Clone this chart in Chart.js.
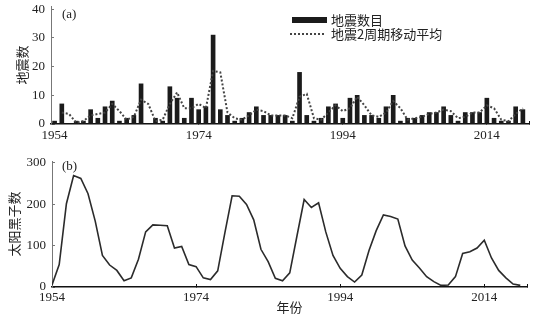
<!DOCTYPE html>
<html>
<head>
<meta charset="utf-8">
<script src="https://cdn.jsdelivr.net/npm/chart.js@4.4.1/dist/chart.umd.min.js"></script>
<style>
  html, body { margin: 0; padding: 0; background: #fff; }
  #wrap { position: relative; width: 534px; height: 321px; }
  #quakeChart { position: absolute; left: 0; top: 0; }
  #sunChart { position: absolute; left: 0; top: 146px; }
</style>
</head>
<body>
<div id="wrap">
  <canvas id="quakeChart" width="534" height="146"></canvas>
  <canvas id="sunChart" width="534" height="175"></canvas>
</div>
<script>
// years on the x axis (both panels)
const years = [1954, 1955, 1956, 1957, 1958, 1959, 1960, 1961, 1962, 1963,
               1964, 1965, 1966, 1967, 1968, 1969, 1970, 1971, 1972, 1973,
               1974, 1975, 1976, 1977, 1978, 1979, 1980, 1981, 1982, 1983,
               1984, 1985, 1986, 1987, 1988, 1989, 1990, 1991, 1992, 1993,
               1994, 1995, 1996, 1997, 1998, 1999, 2000, 2001, 2002, 2003,
               2004, 2005, 2006, 2007, 2008, 2009, 2010, 2011, 2012, 2013,
               2014, 2015, 2016, 2017, 2018, 2019];
const xTickYears = [1954, 1974, 1994, 2014];

// (a) earthquake counts per year
const quakeCounts = [1, 7, 0, 1, 1, 5, 2, 6, 8, 1,
                     2, 3, 14, 0, 2, 1, 13, 9, 2, 9,
                     5, 6, 31, 5, 3, 1, 2, 4, 6, 3,
                     3, 3, 3, 1, 18, 3, 1, 2, 6, 7,
                     2, 9, 10, 3, 3, 2, 6, 10, 1, 2,
                     2, 3, 4, 4, 6, 3, 1, 4, 4, 4,
                     9, 2, 1, 1, 6, 5];
// (a) 2-period moving average (1955-2019)
const quakeMa = [4, 3.5, 0.5, 1, 3, 3.5, 4, 7, 4.5, 1.5,
                 2.5, 8.5, 7, 1, 1.5, 7, 11, 5.5, 5.5, 7,
                 5.5, 18.5, 18, 4, 2, 1.5, 3, 5, 4.5, 3,
                 3, 3, 2, 9.5, 10.5, 2, 1.5, 4, 6.5, 4.5,
                 5.5, 9.5, 6.5, 3, 2.5, 4, 8, 5.5, 1.5, 2,
                 2.5, 3.5, 4, 5, 4.5, 2, 2.5, 4, 4, 6.5,
                 5.5, 1.5, 1, 3.5, 5.5];
const quakeYTicks = [0, 10, 20, 30, 40];

// (b) sunspot numbers per year
const sunspots = [5, 54, 201, 269, 262, 225, 159, 76, 53, 40,
                  15, 22, 67, 133, 150, 149, 148, 94, 98, 54,
                  49, 22, 18, 39, 131, 220, 219, 199, 162, 91,
                  61, 21, 15, 34, 123, 211, 192, 203, 133, 76,
                  45, 25, 12, 29, 88, 136, 174, 170, 164, 99,
                  65, 46, 25, 13, 4, 5, 25, 81, 85, 94,
                  113, 70, 40, 22, 7, 4];
const sunYTicks = [0, 100, 200, 300];

const serif = "'Liberation Serif', 'Times New Roman', serif";
const cjk = "'Noto Sans CJK SC', sans-serif";
const textColor = '#222';

Chart.defaults.font.family = serif;
Chart.defaults.font.size = 13;
Chart.defaults.color = textColor;

// panel tag and hand-placed legend
const panelNotes = {
  id: 'panelNotes',
  afterDraw(chart, args, opts) {
    const ctx = chart.ctx;
    ctx.save();
    ctx.fillStyle = textColor;
    ctx.textBaseline = 'middle';
    ctx.font = '13px ' + serif;
    ctx.fillText(opts.tag, opts.tagX, opts.tagY);
    if (opts.legend) {
      const ds = chart.data.datasets;
      ctx.fillStyle = '#1b1b1b';
      ctx.fillRect(292, 17, 35, 6);
      ctx.strokeStyle = '#444';
      ctx.lineWidth = 2;
      ctx.setLineDash([2, 2]);
      ctx.beginPath();
      ctx.moveTo(290, 34);
      ctx.lineTo(326, 34);
      ctx.stroke();
      ctx.setLineDash([]);
      ctx.fillStyle = textColor;
      ctx.font = '13px ' + cjk;
      ctx.fillText(ds[0].label, 331, 20.5);
      ctx.fillText(ds[1].label, 331, 34.5);
    }
    ctx.restore();
  }
};

function xAxis(min, max, height, pad, title) {
  return {
    type: 'linear', min: min, max: max, offset: false,
    afterBuildTicks: s => {
      s.ticks = xTickYears.map(v => ({value: v})).concat([{value: max}]);
    },
    ticks: {
      padding: pad, maxRotation: 0, autoSkip: false,
      callback: v => xTickYears.includes(v) ? String(v) : ''
    },
    grid: { offset: false, drawOnChartArea: false, drawTicks: true, tickLength: -3, color: '#111', lineWidth: 1 },
    border: { color: '#111', width: 1.5 },
    title: title,
    afterFit: s => { s.height = height; s.paddingLeft = 0; s.paddingRight = 0; }
  };
}

function yAxis(max, tickList, width, title, titlePad) {
  return {
    min: 0, max: max,
    afterBuildTicks: s => { s.ticks = tickList.map(v => ({value: v})); },
    ticks: { padding: 9 },
    grid: { drawOnChartArea: false, drawTicks: true, tickLength: -3, color: '#777', lineWidth: 1 },
    border: { color: '#777', width: 1 },
    title: { display: true, text: title, color: textColor,
             font: { family: cjk, size: 13 }, padding: { top: titlePad, bottom: 0 } },
    afterFit: s => { s.width = width; s.paddingTop = 0; s.paddingBottom = 0; }
  };
}

new Chart(document.getElementById('quakeChart'), {
  type: 'bar',
  data: {
    datasets: [
      {
        type: 'bar',
        label: '地震数目',
        data: years.map((y, i) => ({x: y, y: quakeCounts[i]})),
        backgroundColor: '#1b1b1b',
        barThickness: 4,
        order: 2
      },
      {
        type: 'line',
        label: '地震2周期移动平均',
        data: years.slice(1).map((y, i) => ({x: y, y: quakeMa[i]})),
        borderColor: '#444',
        borderWidth: 2,
        borderDash: [2, 2],
        pointRadius: 0,
        tension: 0,
        fill: false,
        order: 1
      }
    ]
  },
  options: {
    responsive: false,
    animation: false,
    layout: { padding: { top: 6, right: 5, left: 0, bottom: 0 } },
    plugins: {
      legend: { display: false },
      tooltip: { enabled: false },
      panelNotes: { tag: '(a)', tagX: 62, tagY: 15, legend: true }
    },
    scales: {
      x: xAxis(1953.5, 2019.85, 22, 7, { display: false }),
      y: yAxis(41.15, quakeYTicks, 51, '地震数', 14)
    }
  },
  plugins: [panelNotes]
});

new Chart(document.getElementById('sunChart'), {
  type: 'line',
  data: {
    datasets: [{
      label: '太阳黑子数',
      data: years.map((y, i) => ({x: y, y: sunspots[i]})),
      borderColor: '#2b2b2b',
      borderWidth: 1.6,
      pointRadius: 0,
      tension: 0,
      fill: false
    }]
  },
  options: {
    responsive: false,
    animation: false,
    layout: { padding: { top: 15, right: 7, left: 0, bottom: 0 } },
    plugins: {
      legend: { display: false },
      tooltip: { enabled: false },
      panelNotes: { tag: '(b)', tagX: 62, tagY: 21, legend: false }
    },
    scales: {
      x: xAxis(1954, 2019.93, 34, 6, {
        display: true, text: '年份', color: textColor,
        font: { family: cjk, size: 13 }, padding: { top: 0, bottom: 5.7 }
      }),
      y: yAxis(304, sunYTicks, 52, '太阳黑子数', 6)
    }
  },
  plugins: [panelNotes]
});
</script>
</body>
</html>
